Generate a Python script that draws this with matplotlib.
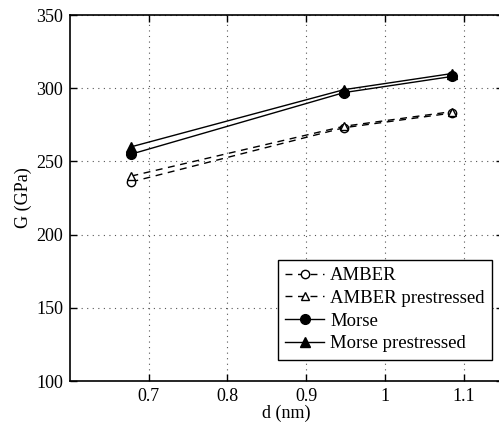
import matplotlib
matplotlib.use("Agg")
import matplotlib.pyplot as plt

plt.rcParams['font.family'] = ['Liberation Serif', 'DejaVu Serif']
plt.rcParams['font.size'] = 13

# ---------------- data ----------------
d = [0.678, 0.948, 1.085]
amber = [236, 273, 283]
amber_pre = [240, 274, 284]
morse = [255, 297, 308]
morse_pre = [260, 299, 310]

fig = plt.figure(figsize=(4.99, 4.30), dpi=100)
ax = fig.add_axes([70 / 499, 1 - 381 / 430, 433 / 499, 366 / 430])

dash = (0, (5, 4))
ax.plot(d, amber, color='k', ls=dash, marker='o', mfc='white', ms=6, lw=1, label='AMBER')
ax.plot(d, amber_pre, color='k', ls=dash, marker='^', mfc='white', ms=6, lw=1,
        label='AMBER prestressed')
ax.plot(d, morse, 'k-o', ms=7, lw=1, label='Morse')
ax.plot(d, morse_pre, 'k-^', ms=7, lw=1, label='Morse prestressed')

ax.set_xlim(0.6, 1.15)
ax.set_ylim(100, 350)
ax.set_xticks([0.7, 0.8, 0.9, 1.0, 1.1])
ax.set_xticklabels(['0.7', '0.8', '0.9', '1', '1.1'])
ax.set_yticks([100, 150, 200, 250, 300, 350])
ax.tick_params(direction='in', top=True, right=True, length=5, width=1, pad=5)
ax.grid(True, linestyle=(0, (1, 4)), color='#555555', lw=0.8)
for s in ax.spines.values():
    s.set_linewidth(1.2)

ax.set_xlabel('d (nm)', labelpad=0)
ax.set_ylabel('G (GPa)', labelpad=3)

leg = ax.legend(loc='lower right', bbox_to_anchor=(492 / 499, 1 - 360 / 430),
                bbox_transform=fig.transFigure, fancybox=False, framealpha=1,
                edgecolor='black', handlelength=2.1, borderpad=0.4,
                labelspacing=0.3, handletextpad=0.3, borderaxespad=0, fontsize=13.5)
leg.get_frame().set_linewidth(1.0)

fig.savefig('out.png', dpi=100)
